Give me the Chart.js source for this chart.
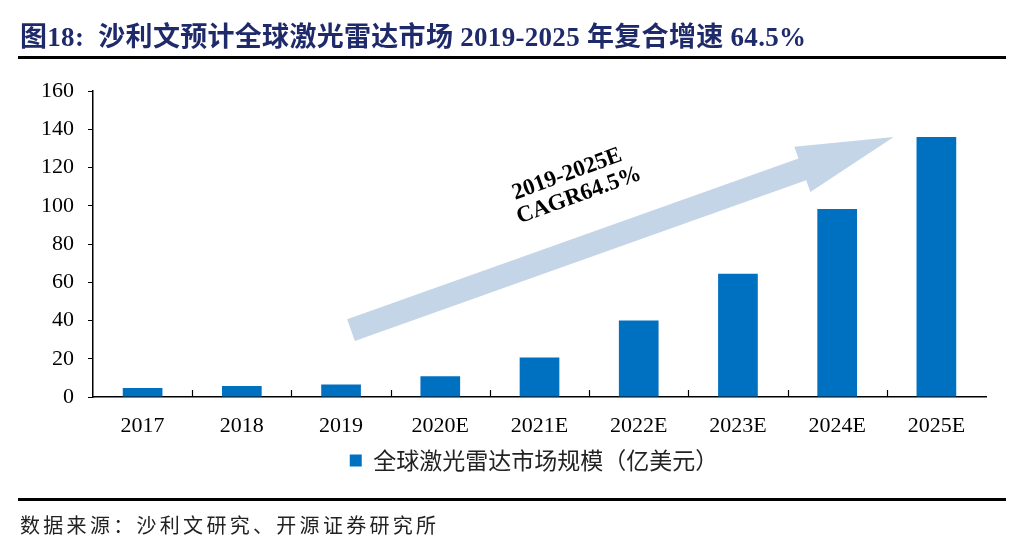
<!DOCTYPE html>
<html>
<head>
<meta charset="utf-8">
<script src="https://cdn.jsdelivr.net/npm/chart.js@4.4.1/dist/chart.umd.min.js"></script>
<style>
    html, body { margin: 0; padding: 0; background: #fff; }
    #wrap { position: relative; width: 1012px; height: 537px; overflow: hidden; }
    #title { position: absolute; left: 20px; top: 15px; line-height: 28px; font: bold 27px "Liberation Serif", "Noto Sans CJK SC", serif; letter-spacing: 0.3px; color: #1F2A6B; white-space: nowrap; }
    .rule { position: absolute; left: 18px; width: 988px; height: 3px; background: #000; }
    #src { position: absolute; left: 20px; top: 510px; font: 20px "Noto Sans CJK SC", sans-serif; letter-spacing: 3.3px; color: #222; white-space: nowrap; }
    canvas { position: absolute; left: 0; top: 0; }
</style>
</head>
<body>
<div id="wrap">
    <canvas id="myChart" width="1012" height="537"></canvas>
    <div id="title">图18:&nbsp; 沙利文预计全球激光雷达市场 2019-2025 年复合增速 64.5%</div>
    <div class="rule" style="top:56px"></div>
    <div class="rule" style="top:498px"></div>
    <div id="src">数据来源：沙利文研究、开源证券研究所</div>
</div>
<script>
// 全球激光雷达市场规模 (亿美元), 读自原图
let labelArray = ['2017', '2018', '2019', '2020E', '2021E', '2022E', '2023E', '2024E', '2025E'];
let marketSize = [4.7, 5.7, 6.6, 10.8, 20.7, 40.0, 64.5, 98.3, 135.9];
let seriesName = '全球激光雷达市场规模（亿美元）';
let cagrText = ['2019-2025E', 'CAGR64.5%'];

// 箭头: 起点/终点 (类目序号, 数值)
let arrowFrom = [2.1, 35];
let arrowTo = [7.57, 136];

const serif = '"Liberation Serif", "Times New Roman", serif';

// 画箭头和 CAGR 文字, 以及 x 轴朝上的小刻度
const extras = {
    id: 'extras',
    afterLayout(chart) {
        // 图例整体右移一点
        chart.legend.left += 41;
        chart.legend.right += 41;
    },
    beforeDatasetsDraw(chart) {
        const c = chart.ctx;
        const x = chart.scales.x, y = chart.scales.y;
        const px = v => x.getPixelForValue(v[0]);
        const py = v => y.getPixelForValue(v[1]);
        const x0 = px(arrowFrom), y0 = py(arrowFrom);
        const x1 = px(arrowTo), y1 = py(arrowTo);
        const len = Math.hypot(x1 - x0, y1 - y0);
        const ang = Math.atan2(y1 - y0, x1 - x0);
        c.save();
        c.translate(x0, y0);
        c.rotate(ang);
        c.fillStyle = '#C5D5E8';
        c.beginPath();
        c.moveTo(0, -11.5);
        c.lineTo(len - 97, -11.5);
        c.lineTo(len - 97, -24);
        c.lineTo(len, 0);
        c.lineTo(len - 97, 24);
        c.lineTo(len - 97, 11.5);
        c.lineTo(0, 11.5);
        c.closePath();
        c.fill();
        c.restore();

        // CAGR 文字
        c.save();
        c.translate(x.getPixelForValue(4.32), y.getPixelForValue(110.5));
        c.rotate(-20 * Math.PI / 180);
        c.fillStyle = '#000';
        c.font = 'bold 23px ' + serif;
        c.textAlign = 'center';
        c.textBaseline = 'middle';
        c.fillText(cagrText[0], 0, -12);
        c.fillText(cagrText[1], 4, 12);
        c.restore();
    },
    afterDraw(chart) {
        const c = chart.ctx;
        const x = chart.scales.x;
        const bottom = chart.chartArea.bottom;
        c.save();
        c.strokeStyle = '#000';
        c.lineWidth = 1.2;
        for (let i = 1; i < labelArray.length; i++) {
            const tx = Math.round((x.getPixelForValue(i - 1) + x.getPixelForValue(i)) / 2) + 0.5;
            c.beginPath();
            c.moveTo(tx, bottom);
            c.lineTo(tx, bottom - 7);
            c.stroke();
        }
        c.restore();
    }
};

const ctx = document.getElementById('myChart').getContext('2d');
const myChart = new Chart(ctx, {
    type: 'bar',
    data: {
        labels: labelArray,
        datasets: [
            {
                label: seriesName,
                data: marketSize,
                backgroundColor: '#0070C0',
                borderWidth: 0,
                categoryPercentage: 1.0,
                barPercentage: 0.4,
            },
        ]
    },
    options: {
        responsive: false,
        animation: false,
        devicePixelRatio: 1,
        layout: {
            padding: { left: 0, right: 26, top: 91, bottom: 55 }
        },
        plugins: {
            legend: {
                position: 'bottom',
                labels: {
                    boxWidth: 12,
                    boxHeight: 12,
                    padding: 10,
                    color: '#222',
                    font: { family: '"Noto Sans CJK SC", sans-serif', size: 23 }
                }
            },
            tooltip: { enabled: false },
        },
        scales: {
            x: {
                grid: { display: false },
                border: { display: true, color: '#000', width: 1.5 },
                ticks: {
                    color: '#000',
                    padding: 8,
                    font: { family: serif, size: 22 }
                },
                afterFit(s) { s.height = 42; }
            },
            y: {
                min: 0,
                max: 160,
                grid: { display: true, drawOnChartArea: false, color: '#000', tickLength: 5 },
                border: { display: true, color: '#000', width: 1.5 },
                ticks: {
                    stepSize: 20,
                    color: '#000',
                    padding: 14,
                    font: { family: serif, size: 22 }
                },
                afterFit(s) { s.width = 93; }
            }
        }
    },
    plugins: [extras]
});
</script>
</body>
</html>
